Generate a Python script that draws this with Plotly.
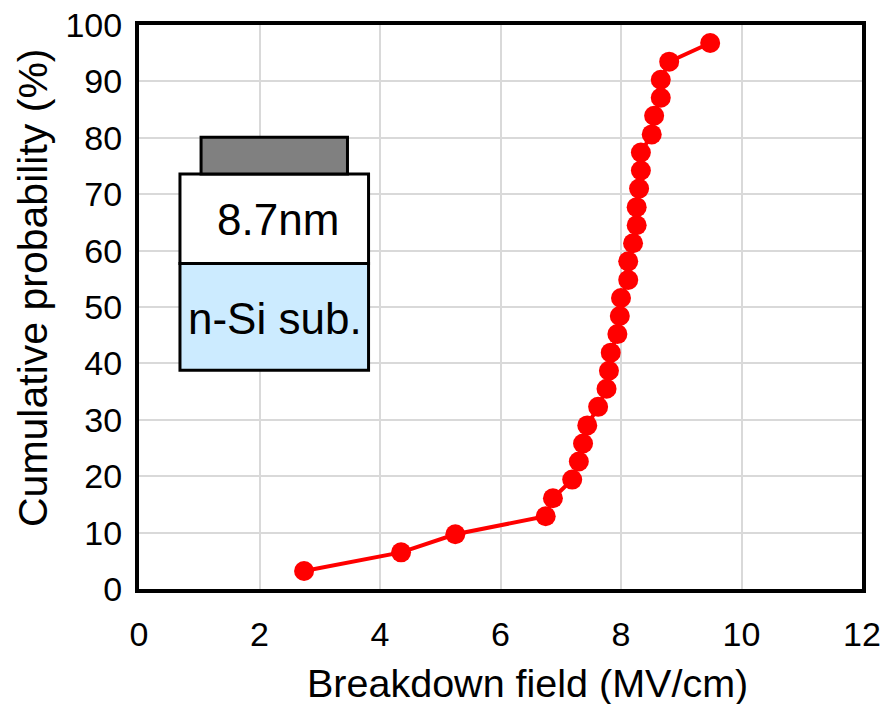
import plotly.graph_objects as go

breakdown_field = [2.74, 4.35, 5.25, 6.75, 6.87, 7.19, 7.30, 7.37, 7.44, 7.62,
                   7.76, 7.80, 7.83, 7.94, 7.98, 8.00, 8.12, 8.12, 8.20, 8.26,
                   8.26, 8.30, 8.33, 8.33, 8.51, 8.55, 8.66, 8.66, 8.80, 9.48]
cum_prob = [3.2, 6.5, 9.7, 12.9, 16.1, 19.4, 22.6, 25.8, 29.0, 32.3,
            35.5, 38.7, 41.9, 45.2, 48.4, 51.6, 54.8, 58.1, 61.3, 64.5,
            67.7, 71.0, 74.2, 77.4, 80.6, 83.9, 87.1, 90.3, 93.5, 96.8]

x_ticks = [0, 2, 4, 6, 8, 10, 12]
y_ticks = [0, 10, 20, 30, 40, 50, 60, 70, 80, 90, 100]

x_title = "Breakdown field (MV/cm)"
y_title = "Cumulative probability (%)"

FONT = "Liberation Sans, Arial, sans-serif"

fig = go.Figure()
fig.add_trace(go.Scatter(
    x=breakdown_field, y=cum_prob, mode="lines+markers",
    line=dict(color="#FF0000", width=4),
    marker=dict(color="#FF0000", size=20),
    showlegend=False, cliponaxis=False,
))

# inset: device schematic (layout decorations, in data units)
fig.add_shape(type="rect", x0=0.68, x1=3.81, y0=38.8, y1=57.7,
              fillcolor="#CCEBFF", line=dict(color="black", width=3), layer="above")
fig.add_shape(type="rect", x0=0.68, x1=3.81, y0=57.7, y1=73.6,
              fillcolor="white", line=dict(color="black", width=3), layer="above")
fig.add_shape(type="rect", x0=1.03, x1=3.46, y0=73.6, y1=80.1,
              fillcolor="#808080", line=dict(color="black", width=3), layer="above")
fig.add_annotation(x=2.31, y=65.5, text="8.7nm", showarrow=False,
                   font=dict(family=FONT, size=44, color="black"))
fig.add_annotation(x=2.26, y=48.0, text="n-Si sub.", showarrow=False,
                   font=dict(family=FONT, size=44, color="black"))

# axis titles
fig.add_annotation(xref="paper", yref="paper", x=0.5, y=0, xshift=27, yshift=-94,
                   xanchor="center", yanchor="middle", text=x_title, showarrow=False,
                   font=dict(family=FONT, size=39.5, color="black"))
fig.add_annotation(xref="paper", yref="paper", x=0, y=0.5, xshift=-106, yshift=19,
                   xanchor="center", yanchor="middle", text=y_title, showarrow=False,
                   textangle=-90, font=dict(family=FONT, size=41, color="black"))

fig.update_layout(
    width=887, height=704,
    margin=dict(l=139, r=25, t=25, b=115, autoexpand=False),
    paper_bgcolor="white", plot_bgcolor="white",
    font=dict(family=FONT, color="black"),
)
fig.update_xaxes(
    range=[0, 12], tickvals=x_ticks, ticktext=[str(v) for v in x_ticks],
    showgrid=True, gridcolor="#D9D9D9", gridwidth=2, zeroline=False,
    showline=True, linecolor="black", linewidth=4, mirror=True,
    ticks="outside", ticklen=12, tickcolor="rgba(0,0,0,0)",
    tickfont=dict(size=34, family=FONT), automargin=False,
)
fig.update_yaxes(
    range=[0, 100], tickvals=y_ticks, ticktext=[str(v) for v in y_ticks],
    showgrid=True, gridcolor="#D9D9D9", gridwidth=2, zeroline=False,
    showline=True, linecolor="black", linewidth=4, mirror=True,
    ticks="outside", ticklen=6, tickcolor="rgba(0,0,0,0)",
    tickfont=dict(size=34, family=FONT), automargin=False,
)

fig.write_html("out.html")
